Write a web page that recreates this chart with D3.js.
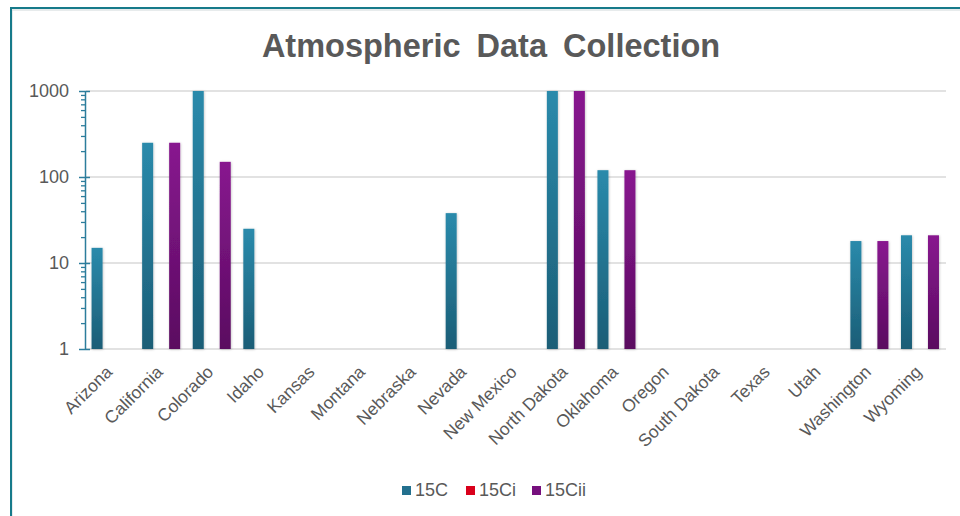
<!DOCTYPE html>
<html><head><meta charset="utf-8">
<script src="https://cdn.jsdelivr.net/npm/d3@7"></script>
<style>
html,body{margin:0;padding:0;background:#fff;}
svg{display:block;font-family:"Liberation Sans",Arial,sans-serif;}
</style></head>
<body>
<svg id="chart" width="960" height="516"></svg>
<script>
const categories = ["Arizona","California","Colorado","Idaho","Kansas","Montana","Nebraska","Nevada","New Mexico","North Dakota","Oklahoma","Oregon","South Dakota","Texas","Utah","Washington","Wyoming"];
const seriesNames = ["15C","15Ci","15Cii"];
const values15C   = [15, 250, 1000, 25, null, null, null, 38, null, 1000, 120, null, null, null, null, 18, 21];
const values15Ci  = [null, null, null, null, null, null, null, null, null, null, null, null, null, null, null, null, null];
const values15Cii = [null, 250, 150, null, null, null, null, null, null, 1000, 120, null, null, null, null, 18, 21];
const yTickValues = [1, 10, 100, 1000];
const title = "Atmospheric Data Collection";

const seriesValues = [values15C, values15Ci, values15Cii];
const colors = {"15C":["#2a8aab","#1b5d76"], "15Ci":["#e4061f","#b00014"], "15Cii":["#88178f","#5a0c60"]};
const legendColors = {"15C":"#23708e","15Ci":"#d9001b","15Cii":"#760f7d"};

const svg = d3.select("#chart");
const defs = svg.append("defs");
seriesNames.forEach((s,i)=>{
  const g = defs.append("linearGradient").attr("id","grad"+i).attr("x1",0).attr("y1",0).attr("x2",0).attr("y2",1);
  g.append("stop").attr("offset","0%").attr("stop-color",colors[s][0]);
  g.append("stop").attr("offset","100%").attr("stop-color",colors[s][1]);
});
const flt = defs.append("filter").attr("id","shadow").attr("x","-50%").attr("y","-10%").attr("width","200%").attr("height","120%");
flt.append("feDropShadow").attr("dx",0.5).attr("dy",0.5).attr("stdDeviation",1).attr("flood-color","#000").attr("flood-opacity",0.25);

// frame
svg.append("rect").attr("x",11).attr("y",9).attr("width",960).attr("height",520)
  .attr("fill","none").attr("stroke","#d0d8da").attr("stroke-width",1).attr("transform","translate(1,1)");
svg.append("rect").attr("x",11).attr("y",8).attr("width",960).attr("height",520)
  .attr("fill","none").attr("stroke","#167a8a").attr("stroke-width",2);

const plotLeft = 86, plotRight = 946, plotTop = 91, plotBottom = 349;
const x0 = d3.scaleBand().domain(categories).range([plotLeft, plotRight]).paddingInner(0).paddingOuter(0);
const bw = x0.bandwidth();
const x1 = d3.scaleBand().domain(seriesNames).range([bw*0.11, bw*0.11 + 40.5]);
const barW = 11;
const y = d3.scaleLog().domain([1,1000]).range([plotBottom, plotTop]);

// title
svg.append("text").attr("x",491).attr("y",57).attr("text-anchor","middle")
  .attr("font-size",32.5).attr("font-weight","bold").attr("fill","#595959").attr("word-spacing",7)
  .text(title);

// gridlines
svg.append("g").selectAll("line").data(yTickValues).join("line")
  .attr("x1",plotLeft).attr("x2",plotRight).attr("y1",d=>y(d)).attr("y2",d=>y(d))
  .attr("stroke","#d9d9d9").attr("stroke-width",1.5);

// bars
categories.forEach((c,ci)=>{
  seriesNames.forEach((s,si)=>{
    const v = seriesValues[si][ci];
    if (v == null) return;
    svg.append("rect")
      .attr("x", x0(c) + x1(s))
      .attr("y", y(v))
      .attr("width", barW)
      .attr("height", y(1) - y(v))
      .attr("fill", "url(#grad"+si+")")
      .attr("filter","url(#shadow)");
  });
});

// y axis
const minorTicks = [];
for (let d=1; d<1000; d*=10) for (let k=2; k<10; k++) minorTicks.push(d*k);
const axisColor = "#2c7d9c";
const gMinor = svg.append("g").attr("transform",`translate(${plotLeft-1},0)`)
  .call(d3.axisLeft(y).tickValues(minorTicks).tickSize(4).tickFormat(""));
gMinor.select(".domain").remove();
gMinor.selectAll("line").attr("stroke",axisColor).attr("stroke-width",1.3);
const gY = svg.append("g").attr("transform",`translate(${plotLeft-1},0)`)
  .call(d3.axisLeft(y).tickValues(yTickValues).tickSizeInner(6).tickSizeOuter(0).tickPadding(10).tickFormat(d3.format("d")));
gY.select(".domain").attr("stroke",axisColor).attr("stroke-width",1.5);
gY.selectAll(".tick line").attr("stroke",axisColor).attr("stroke-width",1.5).attr("x2",-6).attr("x1",5);
gY.selectAll("text").attr("font-size",18).attr("fill","#595959").attr("font-family","Liberation Sans, Arial, sans-serif");

// x labels
svg.append("g").selectAll("text").data(categories).join("text")
  .attr("transform", d=>`translate(${x0(d)+bw/2+2},${plotBottom+24}) rotate(-45)`)
  .attr("text-anchor","end")
  .attr("font-size",17.5).attr("fill","#595959")
  .text(d=>d);

// legend
const legendItems = [{s:"15C",x:402},{s:"15Ci",x:466},{s:"15Cii",x:532}];
const lg = svg.append("g");
legendItems.forEach(it=>{
  lg.append("rect").attr("x",it.x).attr("y",486).attr("width",9).attr("height",9).attr("fill",legendColors[it.s]);
  lg.append("text").attr("x",it.x+13).attr("y",496).attr("font-size",18).attr("fill","#595959").text(it.s);
});
</script>
</body></html>
